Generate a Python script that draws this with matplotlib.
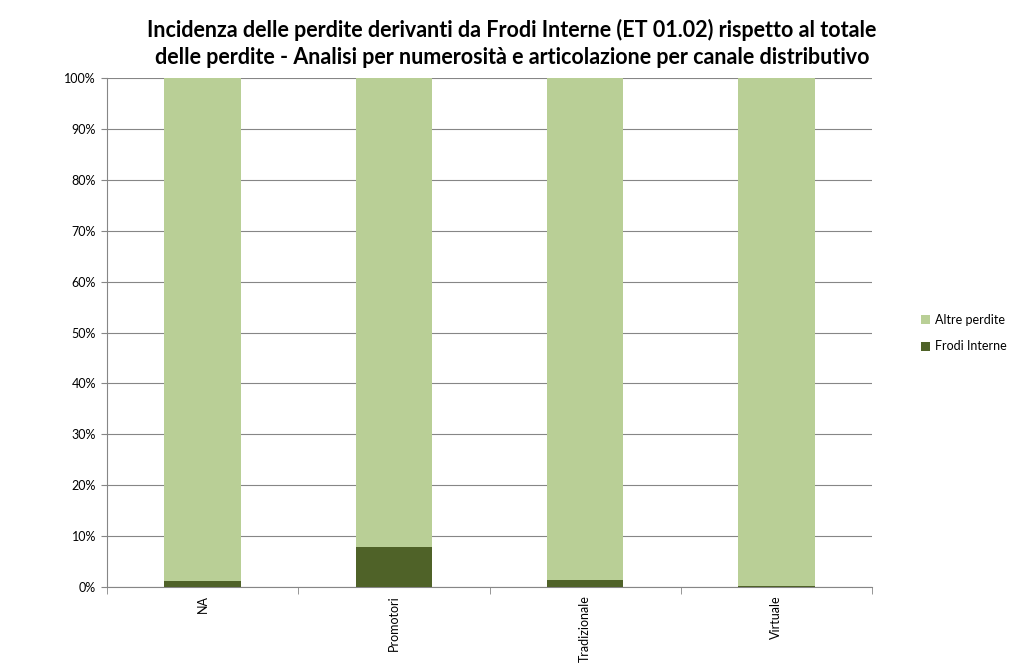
import numpy as np
import matplotlib.pyplot as plt
from matplotlib.ticker import PercentFormatter, FixedLocator

# =====================================================================
# DATA
# =====================================================================

categories = ["NA", "Promotori", "Tradizionale", "Virtuale"]
frodi_interne = [1.1, 7.8, 1.4, 0.2]
altre_perdite = [100 - v for v in frodi_interne]

plt.rcParams["font.family"] = ["Lato", "DejaVu Sans"]

fig = plt.figure(figsize=(10.24, 6.67), dpi=100)
ax = fig.add_axes([107 / 1024, 80 / 667, (872 - 107) / 1024, (587 - 78) / 667])

x = np.arange(len(categories))

ax.bar(x, frodi_interne, width=0.4, color="#4f6228", label="Frodi Interne", zorder=3)
ax.bar(x, altre_perdite, width=0.4, bottom=frodi_interne, color="#b9cf96",
       label="Altre perdite", zorder=3)

ax.set_xlim(-0.5, len(categories) - 0.5)
ax.set_ylim(0, 100)
ax.yaxis.set_major_locator(FixedLocator(np.arange(0, 101, 10)))
ax.yaxis.set_major_formatter(PercentFormatter(decimals=0))
ax.grid(axis="y", color="#868686", linewidth=0.8, zorder=0)

ax.set_xticks(x)
ax.set_xticklabels(categories, rotation=90, fontsize=9)
ax.tick_params(axis="x", length=0, pad=6)
ax.set_xticks(np.arange(-0.5, len(categories), 1), minor=True)
ax.tick_params(axis="x", which="minor", length=5, color="#868686")
ax.tick_params(axis="y", labelsize=9, length=4, color="#868686", pad=4)

for side in ["top", "right"]:
    ax.spines[side].set_visible(False)
for side in ["left", "bottom"]:
    ax.spines[side].set_color("#868686")

handles, labels = ax.get_legend_handles_labels()
fig.legend(handles[::-1], labels[::-1], loc="center left",
           bbox_to_anchor=(910 / 1024, 1 - 333 / 667), frameon=False,
           fontsize=9, handlelength=0.7, handleheight=0.7, handletextpad=0.4,
           labelspacing=1.2)

fig.suptitle("Incidenza delle perdite derivanti da Frodi Interne (ET 01.02) rispetto al totale\n"
             "delle perdite - Analisi per numerosità e articolazione per canale distributivo",
             x=512 / 1024, y=1 - 19 / 667, fontsize=15.5, fontweight="bold", linespacing=1.35)

plt.savefig("out.png", dpi=100)
plt.close()
